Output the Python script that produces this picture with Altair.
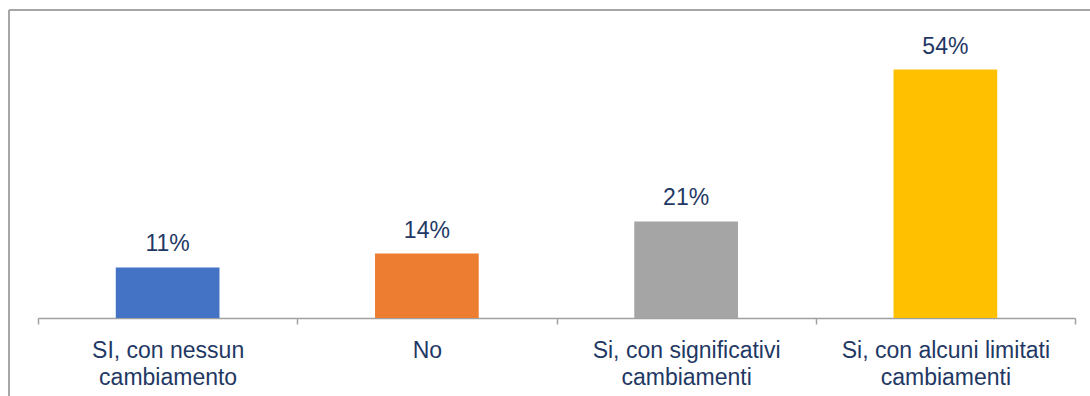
import altair as alt
import pandas as pd

categories = ["SI, con nessun\ncambiamento", "No", "Si, con significativi\ncambiamenti", "Si, con alcuni limitati\ncambiamenti"]
values = [11, 14, 21, 54]
labels = ["11%", "14%", "21%", "54%"]
colors = ["#4472C4", "#ED7D31", "#A5A5A5", "#FFC000"]

df = pd.DataFrame({"cat": categories, "val": values, "lab": labels, "col": colors})

FONT = "Liberation Sans"
TXT = "#1F3864"

x = alt.X("cat:N", sort=categories, title=None,
          scale=alt.Scale(paddingInner=0, paddingOuter=0),
          axis=alt.Axis(labelAngle=0, labelFont=FONT, labelFontSize=23, labelColor=TXT,
                        labelLineHeight=27, labelPadding=15, labelBaseline="top",
                        labelExpr="split(datum.label, '\\n')", labelLimit=400,
                        domainColor="#A0A0A0", domainWidth=1.5, tickColor="#A0A0A0",
                        tickWidth=1.5, tickSize=6, tickBand="extent"))
y = alt.Y("val:Q", scale=alt.Scale(domain=[0, 60]), axis=None)

bars = alt.Chart(df).mark_bar(width={"band": 0.4}).encode(
    x=x, y=y, color=alt.Color("col:N", scale=None))

text = alt.Chart(df).mark_text(font=FONT, fontSize=23, color=TXT, baseline="alphabetic", dy=-16).encode(
    x=alt.X("cat:N", sort=categories), y="val:Q", text="lab:N")

frame_top = alt.Chart(df).mark_rule(color="#A6A6A6", strokeWidth=1.5).encode(
    x=alt.value(-29), x2=alt.value(1060), y=alt.value(-32))
frame_left = alt.Chart(df).mark_rule(color="#A6A6A6", strokeWidth=1.5).encode(
    x=alt.value(-29), y=alt.value(-32), y2=alt.value(360))

chart = alt.layer(bars, text, frame_top, frame_left).properties(
    width=1037, height=276,
    background="white",
    autosize=alt.AutoSizeParams(type="none"),
    padding={"left": 38, "top": 42, "right": 15, "bottom": 78},
).configure_view(strokeWidth=0, stroke=None)

chart.save("out.html", embed_options={"renderer": "svg", "actions": False})
